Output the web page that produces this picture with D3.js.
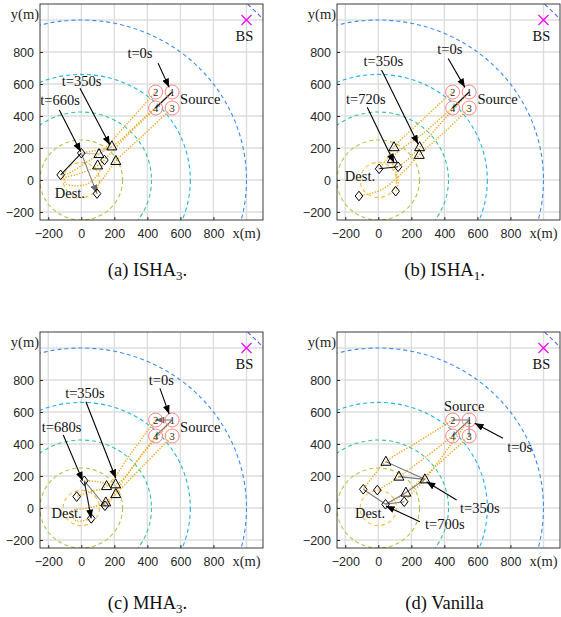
<!DOCTYPE html>
<html>
<head>
<meta charset="utf-8">
<script src="https://cdn.jsdelivr.net/npm/d3@7"></script>
<style>
  body { margin: 0; background: #fff; }
</style>
</head>
<body>
<svg id="fig" width="561" height="617"></svg>
<script>
// ---------- shared data (metres) ----------
const xTicks = [-200, 0, 200, 400, 600, 800];
const yTicks = [-200, 0, 200, 400, 600, 800];
const gridTicks = [-200, 0, 200, 400, 600, 800, 1000];
const ringRadii = [110, 250, 425, 660, 1000, 1490];
const ringColors = ["#f7bd3e", "#b6c244", "#35c3a0", "#1cb2e2", "#3a8cf2", "#4c5fe8"];
const basePos = [1000, 1000];
const sourcePos = [[550, 550], [450, 550], [550, 450], [450, 450]];
const sourceIds = ["1", "2", "3", "4"];

// ---------- (a) ISHA3 ----------
const isha3Tri = [[185, 210], [107, 162], [209, 119], [99, 91]];
const isha3Dia = [[0, 168], [-125, 32], [95, -85], [140, 125]];
const isha3Traj = [
  [[550, 550], [370, 380], [185, 210], [90, 185], [0, 168]],
  [[450, 550], [280, 355], [107, 162], [30, 110], [-80, 40], [-125, 32]],
  [[550, 450], [380, 285], [209, 119], [140, 20], [100, -40], [95, -85]],
  [[450, 450], [270, 270], [99, 91], [-10, 40], [-100, 10], [-90, -25], [20, -30], [90, 20], [140, 125]]
];
const isha3Links = [
  { a: [550, 550], b: [450, 450], c: "k" },
  { a: [0, 168], b: [-125, 32], c: "k" },
  { a: [0, 168], b: [95, -85], c: "g", arrow: true },
  { a: [0, 168], b: [107, 162], c: "lg" },
  { a: [185, 210], b: [107, 162], c: "lg" }
];
const isha3Notes = [
  { t: "t=0s", at: [355, 792], from: [465, 730], to: [532, 579] },
  { t: "t=350s", at: [2, 619], from: [-8, 573], to: [173, 219] },
  { t: "t=660s", at: [-129, 500], from: [-133, 438], to: [-4, 177] },
  { t: "Source", at: [598, 506], start: true },
  { t: "Dest.", at: [-69, -79] }
];

// ---------- (b) ISHA1 ----------
const isha1Tri = [[95, 205], [85, 130], [250, 205], [248, 157]];
const isha1Dia = [[5, 70], [120, 83], [-117, -100], [105, -70]];
const isha1Traj = [
  [[550, 550], [400, 380], [250, 205], [180, 130], [120, 83]],
  [[450, 550], [270, 380], [95, 205], [50, 130], [5, 70]],
  [[550, 450], [400, 300], [248, 157], [150, 50], [20, -60], [-117, -100]],
  [[450, 450], [270, 290], [85, 130], [110, 40], [120, -20], [105, -70]]
];
const isha1Links = [
  { a: [550, 550], b: [450, 450], c: "k" },
  { a: [5, 70], b: [120, 83], c: "k" }
];
const isha1Notes = [
  { t: "t=0s", at: [433, 817], from: [423, 760], to: [524, 579] },
  { t: "t=350s", at: [30, 745], from: [20, 687], to: [241, 225] },
  { t: "t=720s", at: [-75, 504], from: [-67, 454], to: [96, 108] },
  { t: "Source", at: [600, 506], start: true },
  { t: "Dest.", at: [-111, 25] }
];

// ---------- (c) MHA3 ----------
const mha3Tri = [[208, 148], [153, 137], [209, 87], [148, 35]];
const mha3Dia = [[18, 170], [-28, 71], [143, 14], [60, -65]];
const mha3Traj = [
  [[550, 550], [380, 350], [208, 148], [100, 165], [18, 170]],
  [[450, 550], [300, 340], [153, 137], [50, 100], [-28, 71]],
  [[550, 450], [380, 270], [209, 87], [170, 40], [143, 14]],
  [[450, 450], [300, 240], [148, 35], [40, 0], [-60, -20], [-30, -80], [60, -65]]
];
const mha3Links = [
  { a: [550, 550], b: [450, 550], c: "g", arrow: true },
  { a: [550, 550], b: [450, 450], c: "g" },
  { a: [18, 170], b: [60, -65], c: "k", arrow: true },
  { a: [18, 170], b: [143, 14], c: "g" }
];
const mha3Notes = [
  { t: "t=0s", at: [485, 800], from: [476, 748], to: [532, 587] },
  { t: "t=350s", at: [22, 717], from: [28, 664], to: [209, 186] },
  { t: "t=680s", at: [-119, 504], from: [-109, 456], to: [8, 171] },
  { t: "Source", at: [598, 508], start: true },
  { t: "Dest.", at: [-89, -33] }
];

// ---------- (d) Vanilla ----------
const vanTri = [[46, 289], [125, 196], [282, 179], [167, 96]];
const vanDia = [[-91, 117], [-6, 112], [44, 23], [157, 39]];
const vanTraj = [
  [[550, 550], [420, 370], [282, 179], [220, 110], [157, 39]],
  [[450, 550], [250, 420], [46, 289], [-30, 200], [-91, 117]],
  [[550, 450], [360, 270], [167, 96], [100, 50], [44, 23]],
  [[450, 450], [290, 320], [125, 196], [60, 150], [-6, 112]]
];
const vanLinks = [
  { a: [550, 550], b: [450, 550], c: "g" },
  { a: [550, 550], b: [550, 450], c: "g" },
  { a: [550, 550], b: [450, 450], c: "g" },
  { a: [46, 289], b: [282, 179], c: "g" },
  { a: [125, 196], b: [282, 179], c: "g" },
  { a: [282, 179], b: [167, 96], c: "g" },
  { a: [167, 96], b: [44, 23], c: "g" },
  { a: [-91, 117], b: [44, 23], c: "g" },
  { a: [44, 23], b: [157, 39], c: "g" }
];
const vanNotes = [
  { t: "t=0s", at: [856, 383], from: [755, 436], to: [584, 529] },
  { t: "t=350s", at: [615, -2], from: [474, 50], to: [292, 164] },
  { t: "t=700s", at: [403, -100], from: [252, -86], to: [46, 13] },
  { t: "Source", at: [520, 637] },
  { t: "Dest.", at: [-50, -29] }
];

const captionLabels = ["(a) ISHA", "(b) ISHA", "(c) MHA", "(d) Vanilla"];
const captionSubs = ["3", "1", "3", ""];
const captionEnds = [".", ".", ".", ""];

// ---------- layout ----------
const W = 223, H = 216;
const panels = [
  { left: 40, top: 4, capY: 56, tri: isha3Tri, dia: isha3Dia, traj: isha3Traj, links: isha3Links, notes: isha3Notes },
  { left: 337, top: 4, capY: 56, tri: isha1Tri, dia: isha1Dia, traj: isha1Traj, links: isha1Links, notes: isha1Notes },
  { left: 40, top: 332, capY: 61, tri: mha3Tri, dia: mha3Dia, traj: mha3Traj, links: mha3Links, notes: mha3Notes },
  { left: 337, top: 332, capY: 61, tri: vanTri, dia: vanDia, traj: vanTraj, links: vanLinks, notes: vanNotes }
];

const x = d3.scaleLinear().domain([-250, 1100]).range([0, W]);
const y = d3.scaleLinear().domain([-250, 1100]).range([H, 0]);

const svg = d3.select("#fig");
const serif = "'Liberation Serif', 'DejaVu Serif', serif";
const sans = "'Liberation Sans', Arial, sans-serif";
const linkColor = { k: "#111", g: "#7a7a7a", lg: "#c8c8c8" };

const defs = svg.append("defs");
defs.append("clipPath").attr("id", "clip")
  .append("rect").attr("width", W).attr("height", H);
[["ah-k", "#000"], ["ah-g", "#6a6a6a"]].forEach(([id, col]) => {
  defs.append("marker")
    .attr("id", id)
    .attr("viewBox", "0 0 10 8")
    .attr("refX", 10).attr("refY", 4)
    .attr("markerWidth", 9).attr("markerHeight", 7)
    .attr("markerUnits", "userSpaceOnUse")
    .attr("orient", "auto")
    .append("path").attr("d", "M0,0 L10,4 L0,8 Z").attr("fill", col);
});

const traj = d3.line().x(d => x(d[0])).y(d => y(d[1])).curve(d3.curveCatmullRom.alpha(0.5));

panels.forEach((p, i) => {
  const g = svg.append("g").attr("transform", `translate(${p.left},${p.top})`);

  // grid
  g.append("g").selectAll("line").data(gridTicks).enter().append("line")
    .attr("x1", d => x(d)).attr("x2", d => x(d)).attr("y1", 0).attr("y2", H)
    .attr("stroke", "#dedede").attr("stroke-width", 1.4);
  g.append("g").selectAll("line").data(gridTicks).enter().append("line")
    .attr("y1", d => y(d)).attr("y2", d => y(d)).attr("x1", 0).attr("x2", W)
    .attr("stroke", "#dedede").attr("stroke-width", 1.4);

  const plot = g.append("g").attr("clip-path", "url(#clip)");

  // distance rings around the destination
  plot.append("g").selectAll("ellipse").data(ringRadii).enter().append("ellipse")
    .attr("cx", x(0)).attr("cy", y(0))
    .attr("rx", d => x(d) - x(0)).attr("ry", d => y(0) - y(d))
    .attr("fill", "none")
    .attr("stroke", (d, k) => ringColors[k])
    .attr("stroke-width", 1.1)
    .attr("stroke-dasharray", "4,3");

  // trajectories
  plot.append("g").selectAll("path").data(p.traj).enter().append("path")
    .attr("d", traj)
    .attr("fill", "none")
    .attr("stroke", "#f0a81c")
    .attr("stroke-width", 1.4)
    .attr("stroke-dasharray", "1.3,1.5");

  // links
  plot.append("g").selectAll("line").data(p.links).enter().append("line")
    .attr("x1", d => x(d.a[0])).attr("y1", d => y(d.a[1]))
    .attr("x2", d => x(d.b[0])).attr("y2", d => y(d.b[1]))
    .attr("stroke", d => linkColor[d.c])
    .attr("stroke-width", 1.1)
    .attr("marker-end", d => d.arrow ? `url(#ah-${d.c === "k" ? "k" : "g"})` : null);

  // source UAVs
  const src = plot.append("g").selectAll("g").data(sourcePos).enter().append("g")
    .attr("transform", d => `translate(${x(d[0])},${y(d[1])})`);
  src.append("circle").attr("r", 7).attr("fill", "none").attr("stroke", "#ff8383").attr("stroke-width", 1);
  src.append("text").text((d, k) => sourceIds[k])
    .attr("text-anchor", "middle").attr("dy", "0.35em")
    .attr("font-family", serif).attr("font-size", 10).attr("fill", "#222");

  // t=350s positions (triangles)
  plot.append("g").selectAll("path").data(p.tri).enter().append("path")
    .attr("transform", d => `translate(${x(d[0])},${y(d[1])})`)
    .attr("d", "M0,-5.5 L5,3.5 L-5,3.5 Z")
    .attr("fill", "none").attr("stroke", "#000").attr("stroke-width", 1);

  // final positions (diamonds)
  plot.append("g").selectAll("path").data(p.dia).enter().append("path")
    .attr("transform", d => `translate(${x(d[0])},${y(d[1])})`)
    .attr("d", "M0,-4.8 L3.8,0 L0,4.8 L-3.8,0 Z")
    .attr("fill", "none").attr("stroke", "#000").attr("stroke-width", 1);

  // base station
  const bs = plot.append("g").attr("transform", `translate(${x(basePos[0])},${y(basePos[1])})`);
  bs.append("path").attr("d", "M-5,-5 L5,5 M-5,5 L5,-5")
    .attr("stroke", "#ff00ff").attr("stroke-width", 1.2);
  g.append("text").text("BS")
    .attr("x", x(basePos[0]) - 2).attr("y", y(900)).attr("dy", "0.35em")
    .attr("text-anchor", "middle").attr("font-family", serif).attr("font-size", 14.5).attr("fill", "#111");

  // annotations
  p.notes.forEach(n => {
    if (n.from) {
      g.append("line")
        .attr("x1", x(n.from[0])).attr("y1", y(n.from[1]))
        .attr("x2", x(n.to[0])).attr("y2", y(n.to[1]))
        .attr("stroke", "#000").attr("stroke-width", 1.1)
        .attr("marker-end", "url(#ah-k)");
    }
    g.append("text").text(n.t)
      .attr("x", x(n.at[0])).attr("y", y(n.at[1])).attr("dy", "0.35em")
      .attr("text-anchor", n.start ? "start" : "middle")
      .attr("font-family", serif).attr("font-size", 14.5).attr("fill", "#111");
  });

  // box
  g.append("rect").attr("width", W).attr("height", H)
    .attr("fill", "none").attr("stroke", "#262626").attr("stroke-width", 0.9);

  // axes
  const xa = g.append("g").attr("transform", `translate(0,${H})`)
    .call(d3.axisBottom(x).tickValues(xTicks).tickSize(-3).tickPadding(9));
  const ya = g.append("g")
    .call(d3.axisLeft(y).tickValues(yTicks).tickSize(-3).tickPadding(6));
  [xa, ya].forEach(a => {
    a.select(".domain").remove();
    a.selectAll(".tick line").attr("stroke", "#262626");
    a.selectAll(".tick text").attr("font-family", sans).attr("font-size", 12.5).attr("fill", "#262626");
  });

  g.append("text").text("x(m)")
    .attr("x", x(1000)).attr("y", H + 13).attr("dy", "0.35em")
    .attr("text-anchor", "middle").attr("font-family", serif).attr("font-size", 14.5).attr("fill", "#262626");
  g.append("text").text("y(m)")
    .attr("x", -1).attr("y", 9.5).attr("dy", "0.35em")
    .attr("text-anchor", "end").attr("font-family", serif).attr("font-size", 14.5).attr("fill", "#262626");

  // caption
  const cap = g.append("text")
    .attr("x", W / 2 - 4).attr("y", H + p.capY)
    .attr("text-anchor", "middle").attr("font-family", serif).attr("font-size", 18.5).attr("fill", "#111");
  cap.append("tspan").text(captionLabels[i]);
  if (captionSubs[i]) {
    cap.append("tspan").text(captionSubs[i]).attr("font-size", 13).attr("dy", 3.5);
    cap.append("tspan").text(captionEnds[i]).attr("dy", -3.5);
  }
});
</script>
</body>
</html>
